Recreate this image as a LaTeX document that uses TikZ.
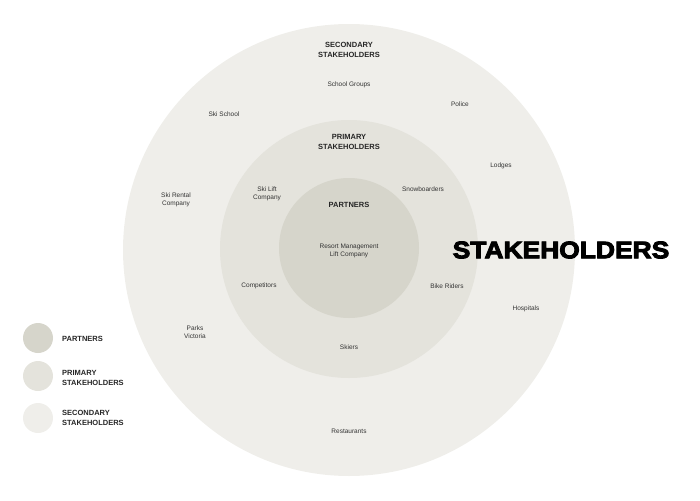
\documentclass[tikz,border=0pt]{standalone}
\usepackage{fontspec}
\setmainfont{Liberation Sans}
\newfontfamily\heavyfont[FakeBold=4, FakeStretch=1.1]{Liberation Sans Bold}
\definecolor{partnercol}{HTML}{D6D5CB}
\definecolor{primarycol}{HTML}{E4E3DC}
\definecolor{secondcol}{HTML}{EFEEEA}
\definecolor{labelcol}{HTML}{333333}
\tikzset{
  label/.style = {font=\fontsize{6.5}{8}\selectfont, text=labelcol, align=center, inner sep=0pt},
  heading/.style = {font=\fontsize{7.5}{9.5}\selectfont\bfseries, text=black!85, align=center, inner sep=0pt},
  legend/.style = {font=\fontsize{7.5}{9.5}\selectfont\bfseries, text=black!85, align=left, anchor=west, inner sep=0pt}
}

\begin{document}
\begin{tikzpicture}[x=1pt, y=-1pt]
\useasboundingbox (0,0) rectangle (700,500);
\def\ringSecondary{(349,250) circle [radius = 226]}
\def\ringPrimary{(349,249) circle [radius = 129]}
\def\ringPartner{(349,248) circle [radius = 70]}
\fill[secondcol] \ringSecondary;
\fill[primarycol] \ringPrimary;
\fill[partnercol] \ringPartner;
% ring headings
\node[heading] (secHead) at (349,50) {SECONDARY\\STAKEHOLDERS};
\node[heading] (primHead) at (349,142) {PRIMARY\\STAKEHOLDERS};
\node[heading] (partHead) at (349,205) {PARTNERS};
% secondary stakeholders
\node[label] (schoolGroups) at (349,85) {School Groups};
\node[label] (skiSchool) at (224,114) {Ski School};
\node[label] (police) at (460,104) {Police};
\node[label] (lodges) at (501,166) {Lodges};
\node[label] (skiRental) at (176,200) {Ski Rental\\Company};
\node[label] (hospitals) at (526,309) {Hospitals};
\node[label] (parks) at (195,332) {Parks\\Victoria};
\node[label] (restaurants) at (349,431) {Restaurants};
% primary stakeholders
\node[label] (skiLift) at (267,194) {Ski Lift\\Company};
\node[label] (snowboarders) at (423,189) {Snowboarders};
\node[label] (competitors) at (259,286) {Competitors};
\node[label] (bikeRiders) at (447,286) {Bike Riders};
\node[label] (skiers) at (349,347) {Skiers};
% partners
\node[label] (resort) at (349,251) {Resort Management\\Lift Company};
% title
\node[font=\heavyfont\fontsize{24}{24}\selectfont, inner sep=0pt] (title) at (561,250) {STAKEHOLDERS};
% legend
\fill[partnercol] (38,338) circle [radius = 15];
\fill[primarycol] (38,376) circle [radius = 15];
\fill[secondcol] (38,418) circle [radius = 15];
\node[legend] (legPartner) at (62,339) {PARTNERS};
\node[legend] (legPrimary) at (62,378) {PRIMARY\\STAKEHOLDERS};
\node[legend] (legSecond) at (62,418) {SECONDARY\\STAKEHOLDERS};
\end{tikzpicture}
\end{document}
